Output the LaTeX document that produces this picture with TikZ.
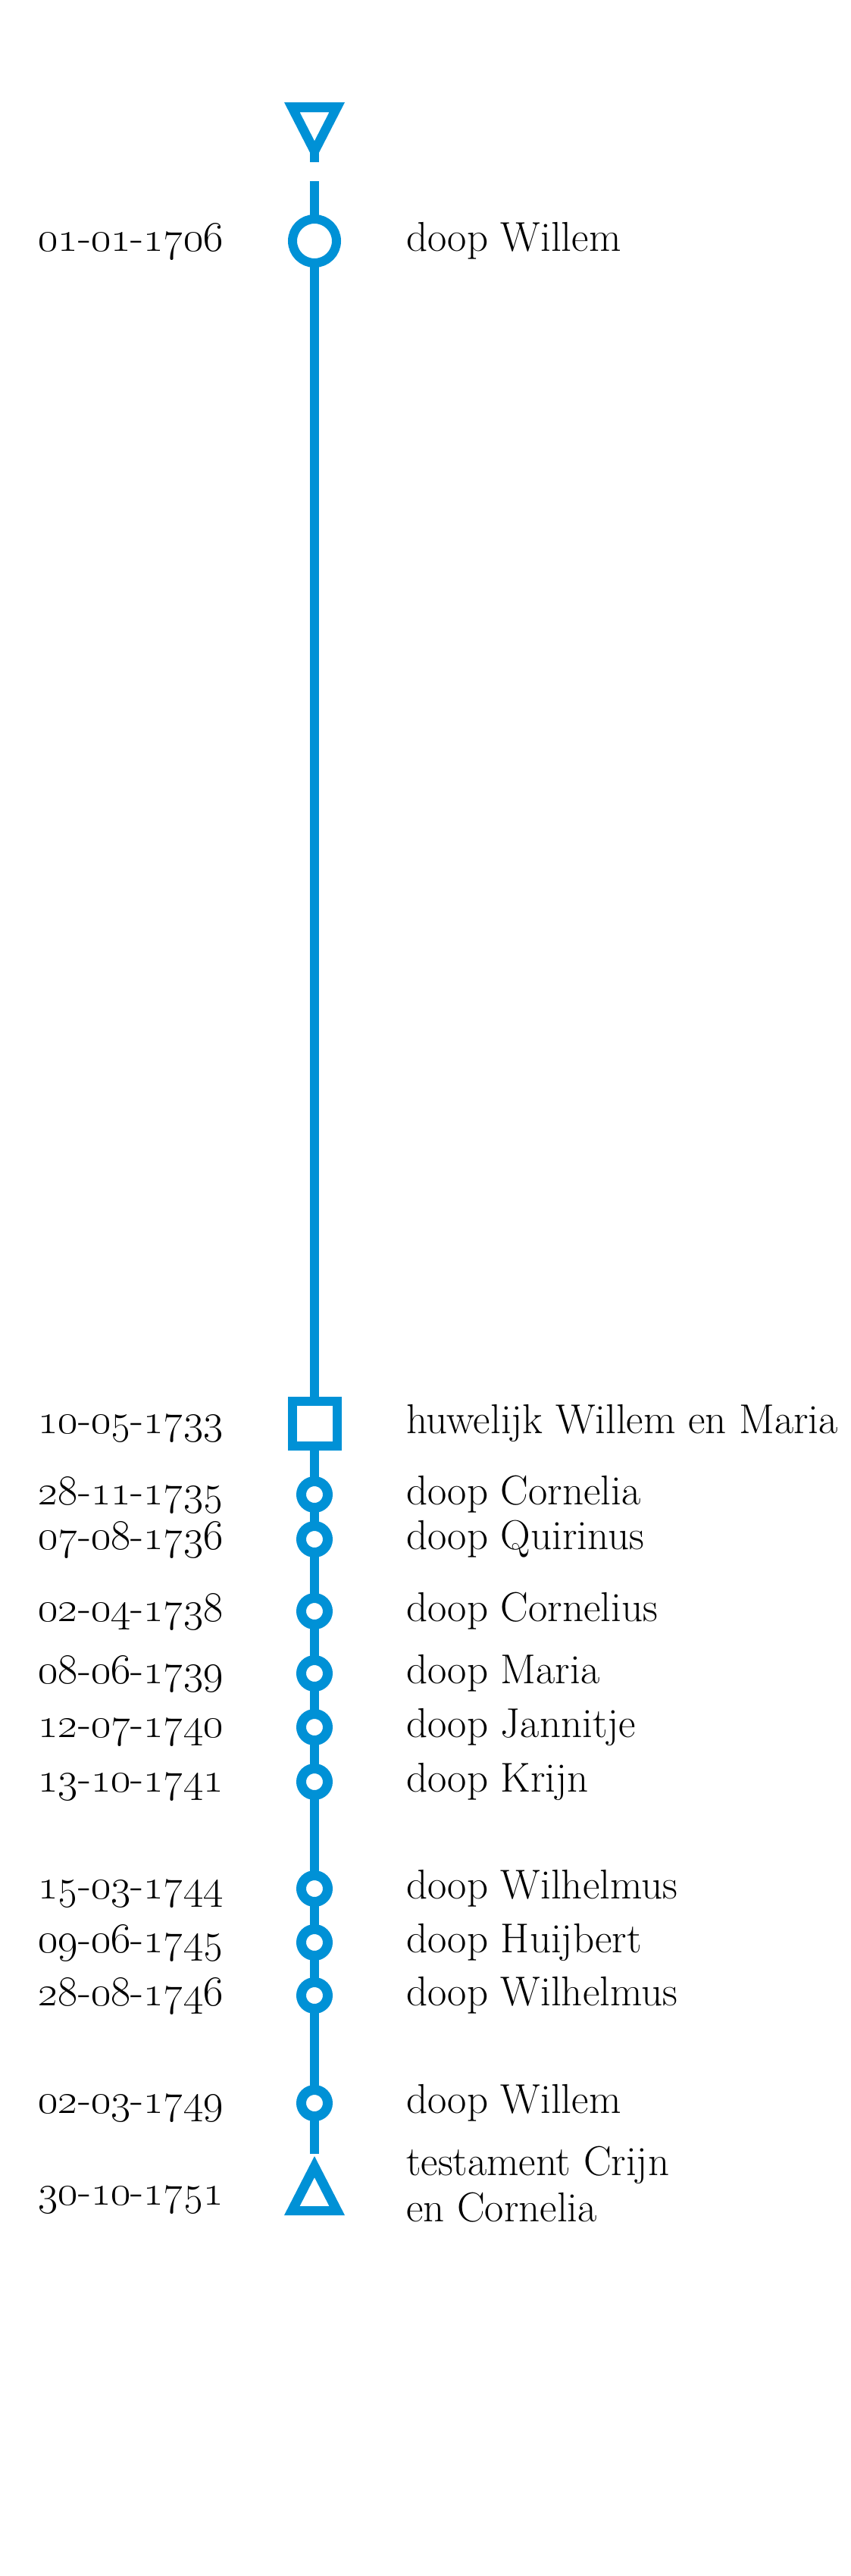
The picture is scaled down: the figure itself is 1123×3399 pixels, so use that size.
\documentclass[tikz,border=0pt]{standalone}
\usepackage{fix-cm}
\usepackage{xcolor}
\usepackage{tikz}
\definecolor{Lijn}{RGB}{0,145,214}
\tikzstyle{lijn}=[draw=Lijn,line width=12pt]
\tikzstyle{doop}=[circle,fill=white,draw=Lijn,line width=13pt,inner sep=0pt,outer sep=0pt,minimum size=35pt]
\tikzstyle{groot}=[doop,line width=12pt,minimum size=58pt]
\tikzstyle{huw}=[rectangle,fill=white,draw=Lijn,line width=12pt,inner sep=0pt,outer sep=0pt,minimum size=59pt]
\tikzstyle{datum}=[anchor=base east,inner sep=0pt,yshift=-13pt,font=\fontsize{56}{61}\selectfont]
\tikzstyle{tekst}=[anchor=base west,inner sep=0pt,yshift=-13pt,align=left]
\newcommand{\dat}[3]{\oldstylenums{#1}-\oldstylenums{#2}-\oldstylenums{#3}}

\begin{document}
\begin{tikzpicture}[x=1pt,y=-1pt,font=\fontsize{55}{61}\selectfont]
\useasboundingbox (0,0) rectangle (1123,3399);

% Nodes
\node[groot] (willem)     at (415,318)  {};
\node[huw]   (huwelijk)   at (415,1878) {};
\node[doop]  (cornelia)   at (415,1972) {};
\node[doop]  (quirinus)   at (415,2031) {};
\node[doop]  (cornelius)  at (415,2126) {};
\node[doop]  (maria)      at (415,2208) {};
\node[doop]  (jannitje)   at (415,2279) {};
\node[doop]  (krijn)      at (415,2351) {};
\node[doop]  (wilhelmus)  at (415,2492) {};
\node[doop]  (huijbert)   at (415,2563) {};
\node[doop]  (wilhelmus2) at (415,2633) {};
\node[doop]  (willem2)    at (415,2775) {};

\coordinate (top tip)  at (415,200);
\coordinate (top stub) at (415,214);
\coordinate (start)    at (415,239);
\coordinate (einde)    at (415,2842);

% Dates
\node[datum] (d willem)     at (295,318)  {\dat{01}{01}{1706}};
\node[datum] (d huwelijk)   at (295,1878) {\dat{10}{05}{1733}};
\node[datum] (d cornelia)   at (295,1972) {\dat{28}{11}{1735}};
\node[datum] (d quirinus)   at (295,2031) {\dat{07}{08}{1736}};
\node[datum] (d cornelius)  at (295,2126) {\dat{02}{04}{1738}};
\node[datum] (d maria)      at (295,2208) {\dat{08}{06}{1739}};
\node[datum] (d jannitje)   at (295,2279) {\dat{12}{07}{1740}};
\node[datum] (d krijn)      at (295,2351) {\dat{13}{10}{1741}};
\node[datum] (d wilhelmus)  at (295,2492) {\dat{15}{03}{1744}};
\node[datum] (d huijbert)   at (295,2563) {\dat{09}{06}{1745}};
\node[datum] (d wilhelmus2) at (295,2633) {\dat{28}{08}{1746}};
\node[datum] (d willem2)    at (295,2775) {\dat{02}{03}{1749}};
\node[datum] (d testament)  at (295,2896) {\dat{30}{10}{1751}};

% Events
\node[tekst] (t willem)     at (536,318)  {doop Willem};
\node[tekst] (t huwelijk)   at (536,1878) {huwelijk Willem en Maria};
\node[tekst] (t cornelia)   at (536,1972) {doop Cornelia};
\node[tekst] (t quirinus)   at (536,2031) {doop Quirinus};
\node[tekst] (t cornelius)  at (536,2126) {doop Cornelius};
\node[tekst] (t maria)      at (536,2208) {doop Maria};
\node[tekst] (t jannitje)   at (536,2279) {doop Jannitje};
\node[tekst] (t krijn)      at (536,2351) {doop Krijn};
\node[tekst] (t wilhelmus)  at (536,2492) {doop Wilhelmus};
\node[tekst] (t huijbert)   at (536,2563) {doop Huijbert};
\node[tekst] (t wilhelmus2) at (536,2633) {doop Wilhelmus};
\node[tekst] (t willem2)    at (536,2775) {doop Willem};
\node[tekst] (t testament)  at (536,2918) {testament Crijn\\en Cornelia};

% Triangles
\fill[Lijn,even odd rule] (375,135) -- (455,135) -- (415,213) -- cycle
                          (395.5,148) -- (434.5,148) -- (415,186) -- cycle;
\fill[Lijn,even odd rule] (415,2845) -- (455,2923) -- (375,2923) -- cycle
                          (415,2873) -- (434.5,2911) -- (395.5,2911) -- cycle;

% Edges
\draw[lijn] (top tip) -- (top stub);
\draw[lijn] (start) -- (willem) -- (huwelijk) -- (cornelia) -- (quirinus)
      -- (cornelius) -- (maria) -- (jannitje) -- (krijn) -- (wilhelmus)
      -- (huijbert) -- (wilhelmus2) -- (willem2) -- (einde);

\end{tikzpicture}
\end{document}
